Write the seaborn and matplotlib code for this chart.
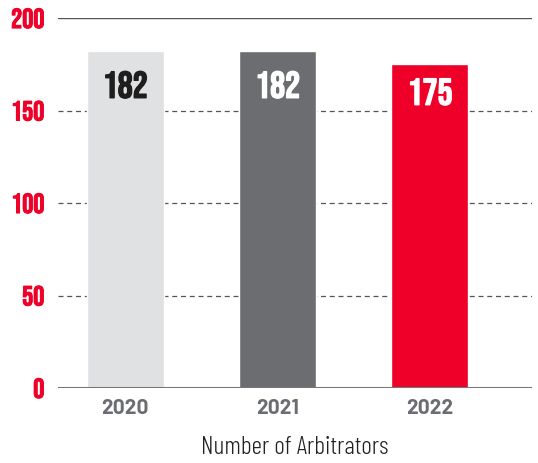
import pandas as pd
import matplotlib.pyplot as plt
import matplotlib.patheffects as pe
import seaborn as sns

years = ['2020', '2021', '2022']
arbitrators = [182, 182, 175]
bar_colors = ['#e0e1e3', '#6c6d71', '#ee0028']
label_colors = ['#1e1e1e', 'white', 'white']

df = pd.DataFrame({'year': years, 'count': arbitrators})

sns.set_style('white')
plt.rcParams['font.family'] = ['Barlow Condensed', 'DejaVu Sans']

fig = plt.figure(figsize=(5.38, 4.63), dpi=100)
ax = fig.add_axes([0.108, 0.162, 0.881, 0.799])

# grid lines behind bars
for v in [50, 100, 150]:
    ax.axhline(v, color='#555555', lw=0.9, ls=(0, (4, 3)), zorder=0)
ax.axhline(200, color='#555555', lw=1.0, zorder=0)

sns.barplot(x='year', y='count', data=df, hue='year', palette=bar_colors,
            width=0.505, legend=False, saturation=1, ax=ax, zorder=2)

ax.axhline(0, color='#777777', lw=1.5, zorder=3)

for i, v in enumerate(arbitrators):
    ax.annotate(str(v), (i, v), xytext=(0, -33 if v > 180 else -27),
                textcoords='offset pixels', ha='center', va='center',
                fontsize=27, family='Bebas Neue', color=label_colors[i], zorder=4,
                path_effects=[pe.withStroke(linewidth=0.9, foreground=label_colors[i])])

ax.set_ylim(0, 200)
ax.set_xlim(-0.44, 2.67)
ax.set_yticks([0, 50, 100, 150, 200])
ax.tick_params(axis='y', length=0, pad=10, labelcolor='#ee0028')
ax.tick_params(axis='x', length=0, pad=8)
for lbl in ax.get_yticklabels():
    lbl.set_family('Bebas Neue')
    lbl.set_fontsize(20)
    lbl.set_path_effects([pe.withStroke(linewidth=0.7, foreground='#ee0028')])
for lbl in ax.get_xticklabels():
    lbl.set_family('Barlow')
    lbl.set_fontweight('bold')
    lbl.set_color('#6c6d71')
    lbl.set_fontsize(15)

ax.set_ylabel('')
ax.set_xlabel('Number of Arbitrators', fontsize=18.5, fontweight=300, color='#222222', labelpad=13)
sns.despine(ax=ax, left=True, bottom=True, top=True, right=True)

plt.savefig('out.png', dpi=100)
